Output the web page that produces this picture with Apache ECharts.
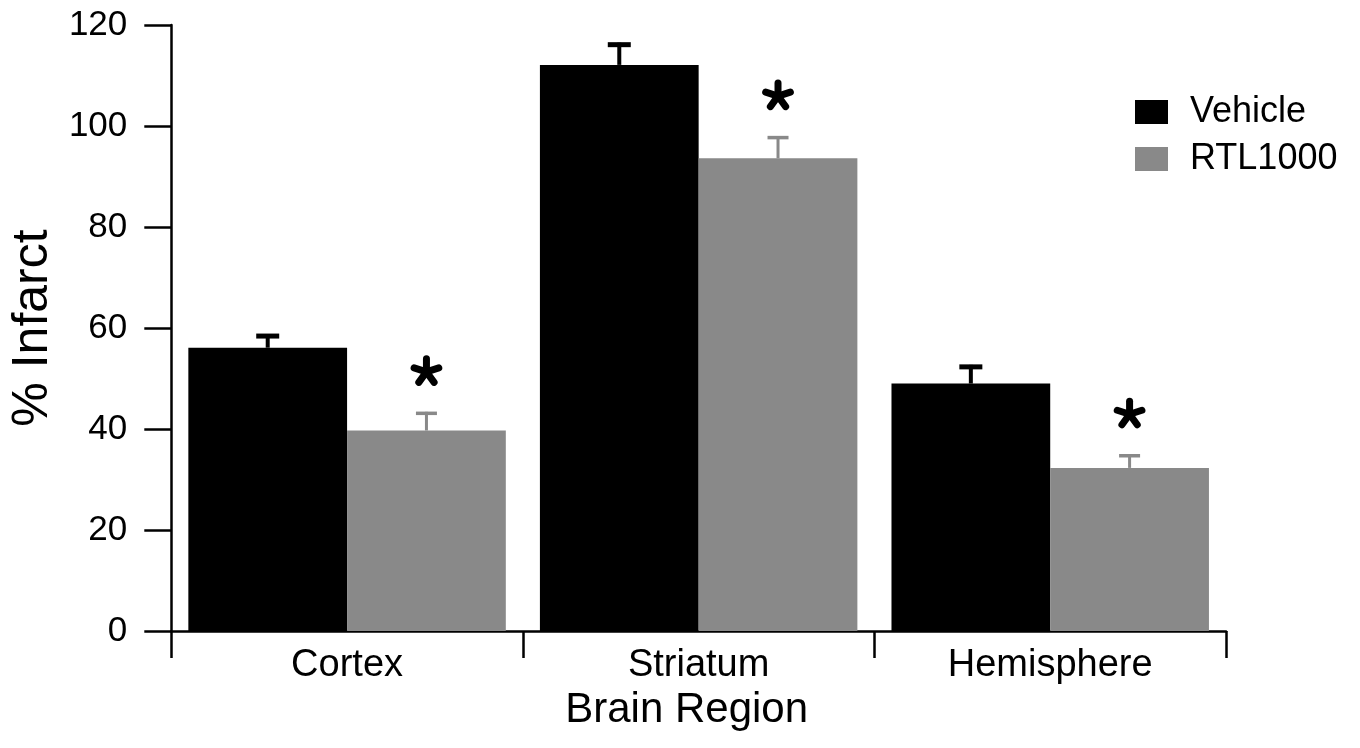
<!DOCTYPE html>
<html>
<head>
<meta charset="utf-8">
<script src="https://cdn.jsdelivr.net/npm/echarts@6/dist/echarts.min.js"></script>
<style>html,body{margin:0;padding:0;background:#fff}#c{width:1360px;height:748px}</style>
</head>
<body>
<div id="c"></div>
<script>
const categories = ['Cortex', 'Striatum', 'Hemisphere'];
const seriesNames = ['Vehicle', 'RTL1000'];
const vehicleMean = [56.1, 112.1, 49.0];
const vehicleErrTop = [58.8, 116.5, 52.7];
const rtlMean = [39.7, 93.6, 32.3];
const rtlErrTop = [43.4, 98.0, 35.0];
const significant = [true, true, true];
const yTicks = [0, 20, 40, 60, 80, 100, 120];

const FONT = 'Liberation Sans, Arial, Helvetica, sans-serif';
const CAT_GAP = 0.097;
const colors = ['#000000', '#898989'];

const chart = echarts.init(document.getElementById('c'), null, {renderer: 'canvas'});

function errSeries(idx, means, tops) {
  return {
    type: 'custom',
    name: seriesNames[idx] + ' err',
    data: means.map((m, i) => [i, m, tops[i], significant[i] && idx === 1 ? 1 : 0]),
    encode: {x: 0, y: [1, 2]},
    z: 5,
    silent: true,
    renderItem: function (params, api) {
      const ci = api.value(0);
      const base = api.coord([ci, api.value(1)]);
      const top = api.coord([ci, api.value(2)]);
      const band = api.size([1, 0])[0];
      const bw = band * (1 - CAT_GAP) / 2;
      const x = base[0] + (idx === 0 ? -bw / 2 : bw / 2);
      const col = colors[idx];
      const lw = idx === 0 ? 4 : 3;
      const capW = idx === 0 ? 23 : 21;
      const children = [
        {type: 'line', shape: {x1: x, y1: base[1], x2: x, y2: top[1]}, style: {stroke: col, lineWidth: lw}},
        {type: 'line', shape: {x1: x - capW / 2, y1: top[1] + lw / 2, x2: x + capW / 2, y2: top[1] + lw / 2}, style: {stroke: col, lineWidth: idx === 0 ? 5 : 3.5}}
      ];
      if (api.value(3) === 1) {
        const cy = top[1] - 40;
        const r = 13;
        for (let k = 0; k < 5; k++) {
          const a = -Math.PI / 2 + k * 2 * Math.PI / 5;
          children.push({type: 'line', shape: {x1: x, y1: cy, x2: x + r * Math.cos(a), y2: cy + r * Math.sin(a)},
            style: {stroke: '#000', lineWidth: 7, lineCap: 'round'}});
        }
        children.push({type: 'circle', shape: {cx: x, cy: cy, r: 5}, style: {fill: '#000'}});
      }
      return {type: 'group', children: children};
    }
  };
}

const option = {
  animation: false,
  backgroundColor: '#ffffff',
  textStyle: {fontFamily: FONT},
  grid: {left: 170, right: 134, top: 25, bottom: 117, containLabel: false},
  legend: {
    data: seriesNames,
    orient: 'vertical',
    left: 1130,
    top: 89,
    itemWidth: 33,
    itemHeight: 24,
    itemGap: 11,
    icon: 'rect',
    textStyle: {fontSize: 36, color: '#000', fontFamily: FONT, padding: [0, 0, 0, 17]},
    selectedMode: false
  },
  xAxis: {
    type: 'category',
    data: categories,
    name: 'Brain Region',
    nameLocation: 'middle',
    nameGap: 50,
    nameTextStyle: {fontSize: 42, color: '#000', fontFamily: FONT, padding: [0, 24, 0, 0]},
    axisLine: {show: true, onZero: false, lineStyle: {color: '#000', width: 2.5}},
    axisTick: {show: true, length: 27, inside: false, alignWithLabel: false, lineStyle: {color: '#000', width: 2.5}},
    axisLabel: {fontSize: 38, color: '#000', margin: 16, fontFamily: FONT},
    splitLine: {show: false}
  },
  yAxis: {
    type: 'value',
    min: 0,
    max: 120,
    interval: 20,
    name: '% Infarct',
    nameLocation: 'middle',
    nameGap: 108,
    nameRotate: 90,
    nameTextStyle: {fontSize: 50, color: '#000', fontFamily: FONT},
    axisLine: {show: true, lineStyle: {color: '#000', width: 2.5}},
    axisTick: {show: true, length: 27, lineStyle: {color: '#000', width: 2.5}},
    axisLabel: {fontSize: 35, color: '#000', margin: 44, fontFamily: FONT,
      formatter: v => (yTicks.indexOf(v) >= 0 ? String(v) : '')},
    splitLine: {show: false}
  },
  series: [
    {type: 'bar', name: seriesNames[0], data: vehicleMean, barGap: '0%', barCategoryGap: (CAT_GAP * 100) + '%',
      itemStyle: {color: colors[0]}, z: 2},
    {type: 'bar', name: seriesNames[1], data: rtlMean, barGap: '0%', barCategoryGap: (CAT_GAP * 100) + '%',
      itemStyle: {color: colors[1]}, z: 2},
    errSeries(0, vehicleMean, vehicleErrTop),
    errSeries(1, rtlMean, rtlErrTop)
  ]
};
chart.setOption(option);
</script>
</body>
</html>
